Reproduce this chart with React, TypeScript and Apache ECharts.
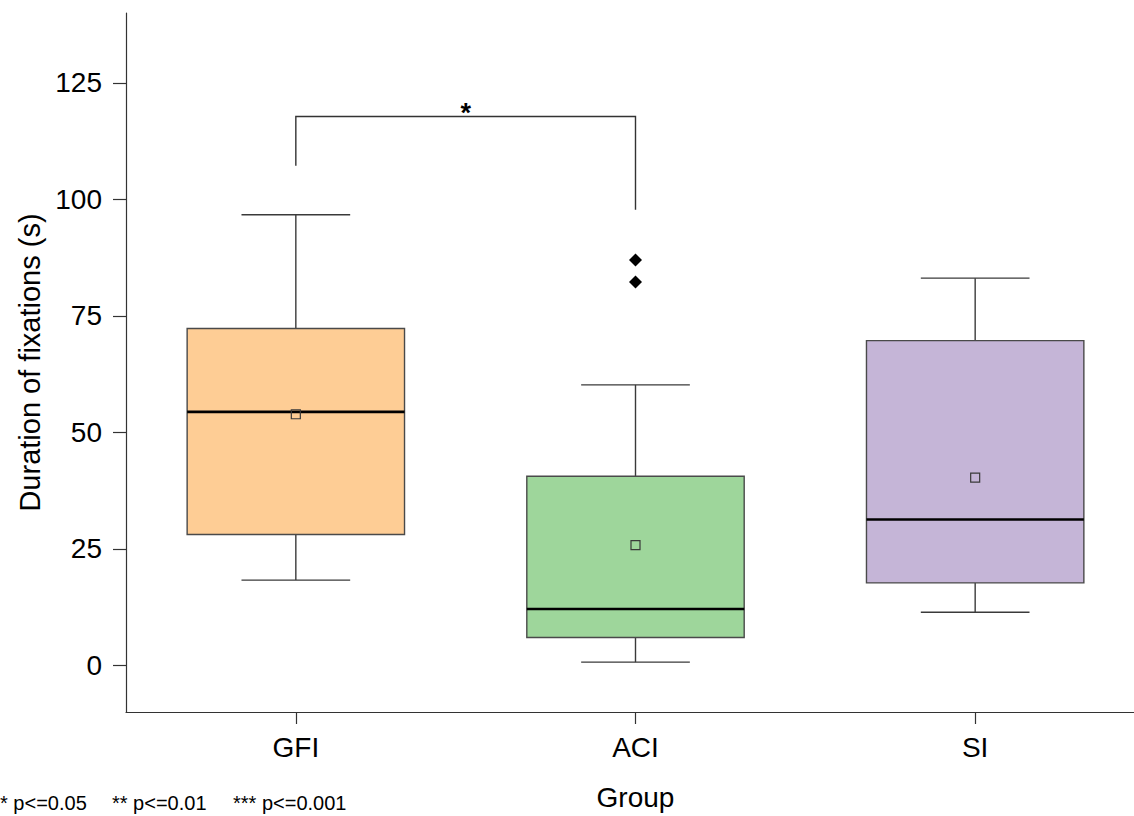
import React, { useEffect, useRef } from 'react';
import * as echarts from 'echarts';

const categories = ['GFI', 'ACI', 'SI'];
const whiskerLow = [18.3, 0.7, 11.4];
const quartile1 = [28.1, 6.0, 17.7];
const medians = [54.4, 12.1, 31.3];
const quartile3 = [72.3, 40.6, 69.7];
const whiskerHigh = [96.7, 60.2, 83.1];
const means = [53.9, 25.8, 40.3];
const outlierPoints: [number, number][] = [[1, 87.0], [1, 82.3]];
const boxColors = ['#FECD95', '#9ED69B', '#C5B5D7'];
const yTickValues = [0, 25, 50, 75, 100, 125];
// significance bracket: [fromCategory, toCategory, topValue, leftLegEnd, rightLegEnd]
const bracketData = [[0, 1, 117.8, 107.2, 97.8]];
const bracketLabel = '*';
const footnotes = ['* p<=0.05', '** p<=0.01', '*** p<=0.001'];

const FONT = "'Liberation Sans', Arial, sans-serif";

export default function App() {
  const ref = useRef<HTMLDivElement>(null);
  useEffect(() => {
    if (!ref.current) return;
    const chart = echarts.init(ref.current, null, { renderer: 'svg' });
    const boxData = categories.map((_, i) => [i, whiskerLow[i], quartile1[i], medians[i], quartile3[i], whiskerHigh[i]]);
    const option: any = {
      animation: false,
      backgroundColor: '#ffffff',
      grid: { left: 126, right: 0, top: 13, bottom: 100, containLabel: false },
      xAxis: {
        type: 'category',
        data: categories,
        boundaryGap: true,
        name: 'Group',
        nameLocation: 'middle',
        nameGap: 71,
        nameTextStyle: { fontFamily: FONT, fontSize: 28, color: '#000' },
        axisLine: { show: true, onZero: false, lineStyle: { color: '#333', width: 1.2 } },
        axisTick: { show: true, alignWithLabel: true, length: 12, lineStyle: { color: '#333', width: 1.2 } },
        axisLabel: { fontFamily: FONT, fontSize: 28, color: '#000', margin: 21 },
        splitLine: { show: false },
      },
      yAxis: {
        type: 'value',
        min: -10,
        max: 140,
        name: 'Duration of fixations (s)',
        nameLocation: 'middle',
        nameGap: 81,
        nameTextStyle: { fontFamily: FONT, fontSize: 29, color: '#000' },
        axisLine: { show: true, lineStyle: { color: '#333', width: 1.2 } },
        axisTick: { show: true, length: 13, customValues: yTickValues, lineStyle: { color: '#333', width: 1.2 } },
        axisLabel: { fontFamily: FONT, fontSize: 28, color: '#000', margin: 24, customValues: yTickValues },
        splitLine: { show: false },
      },
      series: [
        {
          type: 'custom',
          name: 'boxes',
          data: boxData,
          encode: { x: 0, y: [1, 2, 3, 4, 5] },
          renderItem: (params: any, api: any) => {
            const x = api.value(0);
            const band = api.size([1, 0])[0];
            const half = band * 0.32;
            const cap = band * 0.16;
            const pLow = api.coord([x, api.value(1)]);
            const pQ1 = api.coord([x, api.value(2)]);
            const pMed = api.coord([x, api.value(3)]);
            const pQ3 = api.coord([x, api.value(4)]);
            const pHigh = api.coord([x, api.value(5)]);
            const cx = pLow[0];
            const whiskerStyle = { stroke: '#3a3a3a', lineWidth: 1.4 };
            return {
              type: 'group',
              children: [
                { type: 'line', shape: { x1: cx, y1: pLow[1], x2: cx, y2: pQ1[1] }, style: whiskerStyle },
                { type: 'line', shape: { x1: cx, y1: pQ3[1], x2: cx, y2: pHigh[1] }, style: whiskerStyle },
                { type: 'line', shape: { x1: cx - cap, y1: pLow[1], x2: cx + cap, y2: pLow[1] }, style: whiskerStyle },
                { type: 'line', shape: { x1: cx - cap, y1: pHigh[1], x2: cx + cap, y2: pHigh[1] }, style: whiskerStyle },
                {
                  type: 'rect',
                  shape: { x: cx - half, y: pQ3[1], width: half * 2, height: pQ1[1] - pQ3[1] },
                  style: { fill: boxColors[params.dataIndex], stroke: '#4a4a4a', lineWidth: 1.4 },
                },
                { type: 'line', shape: { x1: cx - half, y1: pMed[1], x2: cx + half, y2: pMed[1] }, style: { stroke: '#000', lineWidth: 2.6 } },
              ],
            };
          },
          z: 2,
        },
        {
          type: 'custom',
          name: 'bracket',
          data: bracketData,
          encode: { x: [0, 1], y: [2, 3, 4] },
          renderItem: (params: any, api: any) => {
            const pL = api.coord([api.value(0), api.value(2)]);
            const pR = api.coord([api.value(1), api.value(2)]);
            const pLE = api.coord([api.value(0), api.value(3)]);
            const pRE = api.coord([api.value(1), api.value(4)]);
            return {
              type: 'group',
              children: [
                {
                  type: 'polyline',
                  shape: { points: [[pLE[0], pLE[1]], [pL[0], pL[1]], [pR[0], pR[1]], [pRE[0], pRE[1]]] },
                  style: { stroke: '#333', lineWidth: 1.4, fill: 'none' },
                },
                {
                  type: 'text',
                  style: {
                    text: bracketLabel,
                    x: (pL[0] + pR[0]) / 2,
                    y: pL[1] + 10,
                    textAlign: 'center',
                    textVerticalAlign: 'bottom',
                    font: `bold 27px ${FONT}`,
                    fill: '#000',
                  },
                },
              ],
            };
          },
          z: 3,
        },
        {
          type: 'scatter',
          name: 'mean',
          data: categories.map((_, i) => [i, means[i]]),
          symbol: 'rect',
          symbolSize: 9,
          itemStyle: { color: 'rgba(0,0,0,0)', borderColor: '#3a3a3a', borderWidth: 1.2, opacity: 1 },
          z: 4,
        },
        {
          type: 'scatter',
          name: 'outliers',
          data: outlierPoints,
          symbol: 'diamond',
          symbolSize: 13,
          itemStyle: { color: '#000', opacity: 1 },
          z: 4,
        },
      ],
      graphic: footnotes.map((t, i) => ({
        type: 'text',
        left: [0, 112, 233][i],
        top: 793,
        style: { text: t, font: `20px ${FONT}`, fill: '#000' },
      })),
    };
    chart.setOption(option);
    return () => chart.dispose();
  }, []);
  return (
    <div style={{ position: 'absolute', left: 0, top: 0, width: 1134, height: 816, overflow: 'hidden', background: '#fff' }}>
      <div ref={ref} style={{ position: 'absolute', left: 0, top: 0, width: 1145, height: 816 }} />
    </div>
  );
}
